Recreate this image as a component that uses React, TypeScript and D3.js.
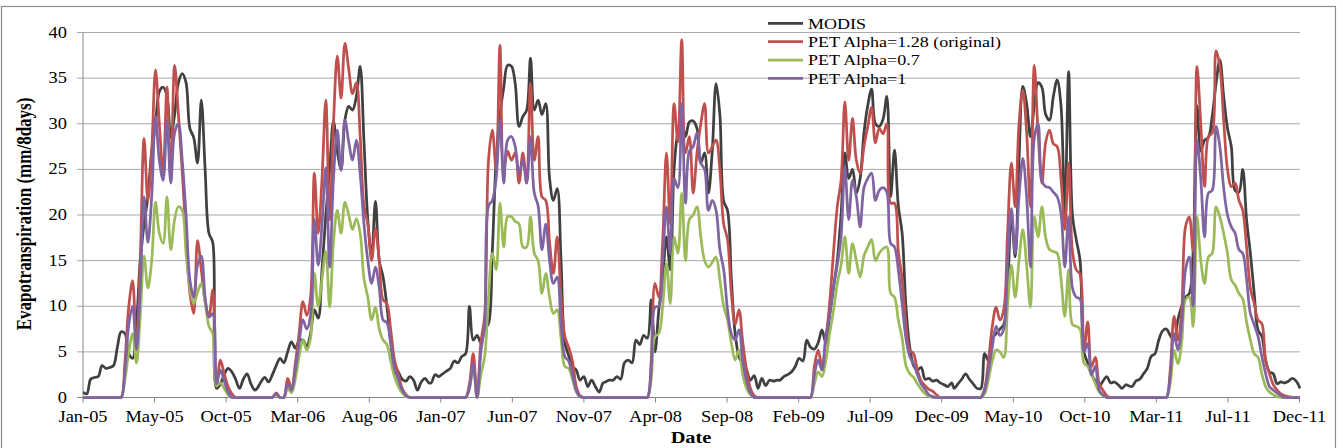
import React from 'react';
import * as d3 from 'd3';

const width = 1343;
const height = 448;
const plot = { left: 83, right: 1300, top: 32.5, bottom: 397.5 };
const font = "'Liberation Serif', 'Times New Roman', serif";

const years = [2005, 2006, 2007, 2008, 2009, 2010, 2011];
const yTicks = [0, 5, 10, 15, 20, 25, 30, 35, 40];
const tickLabels = [
  'Jan-05', 'May-05', 'Oct-05', 'Mar-06', 'Aug-06', 'Jan-07', 'Jun-07', 'Nov-07', 'Apr-08',
  'Sep-08', 'Feb-09', 'Jul-09', 'Dec-09', 'May-10', 'Oct-10', 'Mar-11', 'Jul-11', 'Dec-11',
];

// 8-day composites, 46 per year (2005..2011)
const modis = [
  0.6, 0.4, 2.0, 2.2, 2.3, 3.5, 3.2, 3.3, 3.5, 5.5, 7.2, 7.0, 4.8, 4.3, 8, 15, 19, 22, 27, 30, 33.5, 34, 33, 28.5, 31, 34.5, 35.5, 34.5, 29.5, 28.5, 25.7, 32.6, 25, 18, 17, 1, 1.5, 2.5, 3.2, 2.8, 2.0, 1.0, 2.0, 2.6, 1.5, 0.8,
  1, 1.7, 2.2, 1.7, 2.5, 3.5, 4.3, 3.8, 5, 6.1, 5.4, 6.2, 6.3, 5.6, 7, 9.6, 8.7, 14, 20, 25, 30.3, 27, 25, 30.4, 31.9, 31.5, 33, 36.3, 28, 19.5, 15.5, 21.5, 15, 13.2, 10, 6, 3.5, 2.8, 2.0, 1.8, 2.3, 1.9, 0.8, 1.7, 2.1, 1.6,
  1.6, 2.5, 2.3, 2.6, 2.9, 3.2, 4.0, 3.8, 4.5, 4.8, 10, 6.3, 6.8, 6.0, 7.5, 8.1, 16, 26, 31, 34, 36.4, 36.3, 34.4, 29.7, 30.8, 31.5, 37.2, 31.5, 32.6, 31, 32.2, 24, 21.6, 22.9, 15, 6, 4.6, 3.4, 3, 1.9, 2.3, 1.2, 1.9, 1.2, 0.6, 1.6,
  1.7, 1.9, 1.9, 2.3, 2.0, 3.8, 4.1, 3.8, 6.3, 5.8, 6.8, 6.5, 10.7, 5.0, 9.6, 13, 17.6, 14, 25, 29, 30, 28.6, 30.2, 30.3, 29.5, 25.7, 26.8, 22.4, 27, 34.4, 31, 21.5, 20.5, 13, 7, 4.5, 3.7, 3.0, 1.9, 2.4, 1.0, 2.1, 1.3, 1.9, 1.8, 1.9,
  1.9, 2.3, 2.5, 2.8, 3.4, 4.3, 4.0, 6.3, 5.5, 5.3, 6, 7.4, 6.0, 9, 12, 15, 20, 26.8, 24, 25, 22.4, 24, 29, 32, 33.8, 30, 29.7, 30.5, 33, 22, 27.1, 21, 18, 10, 5.5, 3.5, 3, 3.3, 2, 2.1, 1.8, 1.9, 1.6, 1.4, 1.2, 1.6,
  1.0, 1.5, 2.0, 2.6, 2.0, 1.5, 1.0, 1.0, 4.8, 4.0, 6.5, 7.0, 7.5, 8.0, 12, 20, 15.4, 26, 34.1, 32.2, 28.6, 32, 34.5, 34, 31, 30.4, 33, 34.8, 32, 20, 35.7, 20, 17.3, 15, 5, 3.8, 2.5, 1.8, 1.2, 1.8, 2.3, 1.6, 1.7, 1.4, 1.0, 1.4,
  1.3, 1.2, 1.8, 2.0, 2.6, 3.2, 4.5, 4.8, 6.3, 7.3, 7.5, 6.8, 6.3, 8.5, 10, 11, 11.4, 16, 32, 27, 28.2, 28.5, 30.8, 34.4, 37, 33, 29.5, 27.5, 22.7, 22.5, 25, 19.5, 15.8, 11.4, 7.4, 6.7, 4.1, 2.8, 2.6, 1.5, 1.7, 1.6, 1.8, 2.1, 1.8, 1.0,
];

const petOriginal = [
  0, 0, 0, 0, 0, 0, 0, 0, 0, 0, 0, 4, 10, 12.8, 5.2, 15, 28.4, 21.6, 27, 35.9, 30, 24.6, 34, 24, 36.4, 31, 24.8, 17.6, 11.5, 9.2, 17.2, 14, 10.5, 8.9, 11.8, 1.2, 4.1, 2.6, 1.2, 0.4, 0, 0, 0, 0, 0, 0,
  0, 0, 0, 0, 0, 0.5, 0, 0, 2.1, 1.0, 3.7, 7, 10.5, 9, 11, 24.6, 18, 24, 32.6, 19.5, 30, 37.4, 32.8, 38.8, 36, 33.3, 34.5, 28.6, 21, 19, 15, 18.5, 15, 10.7, 10.3, 7.4, 4.1, 2.6, 1.0, 0.3, 0, 0, 0, 0, 0, 0,
  0, 0, 0, 0, 0, 0, 0, 0, 0, 0, 1.5, 4.8, 0, 6, 9, 26, 29.3, 25, 38.6, 24.9, 27, 26, 26.8, 23.5, 26.8, 23.5, 34.4, 26, 28.6, 22, 21.6, 17, 13.6, 17.6, 11, 6.7, 5.5, 4, 1.2, 0.2, 0, 0, 0, 0, 0, 0,
  0, 0, 0, 0, 0, 0, 0, 0, 0, 0, 0, 0, 4, 12.5, 11, 17, 26.8, 19, 32.2, 28, 39.2, 26.8, 28.6, 22.4, 26.8, 30, 32.2, 26.8, 27.5, 28.2, 24.9, 19, 17.3, 11.5, 8, 9.6, 6, 3, 1, 0.2, 0, 0, 0, 0, 0, 0,
  0, 0, 0, 0, 0, 0, 0, 0, 0, 3.4, 5.2, 3.4, 6.3, 10.3, 15.8, 20.9, 23.8, 32.4, 26, 30.6, 26, 24.6, 27.5, 29.7, 31.8, 27.9, 29.5, 28.9, 30, 21.3, 21.3, 16, 13, 8, 5.2, 4.8, 3, 1.8, 1.3, 0.9, 0.7, 0.3, 0, 0, 0, 0,
  0, 0, 0, 0, 0, 0, 0, 0, 1, 4, 7.8, 9.9, 8.5, 9.6, 18, 25.7, 20.9, 30, 33.7, 29, 20.9, 36.4, 29, 23.5, 28, 29.3, 27.8, 27.5, 24, 18.4, 25.7, 16, 14, 13.5, 5, 8.3, 3.4, 4.4, 1.5, 0.8, 0.2, 0, 0, 0, 0, 0,
  0, 0, 0, 0, 0, 0, 0, 0, 0, 0, 0, 3, 8.9, 6.3, 9.6, 18.7, 19.8, 16, 36.3, 30, 23.1, 28.6, 29, 38, 36.3, 30.4, 25, 23.1, 23.5, 21.6, 20.5, 16.5, 12, 10.3, 8.5, 8.1, 4, 2.6, 1.4, 0.8, 0.4, 0.2, 0.1, 0, 0, 0,
];

const pet07 = [
  0, 0, 0, 0, 0, 0, 0, 0, 0, 0, 0, 2, 5, 7, 3.8, 9, 15.5, 12, 15, 21.4, 18, 16.9, 22, 16.2, 19.5, 20.9, 20.5, 15.8, 12, 10.3, 11.5, 12.5, 10.5, 7.8, 7, 1.3, 1.6, 1.0, 0.3, 0, 0, 0, 0, 0, 0, 0,
  0, 0, 0, 0, 0, 0.3, 0, 0, 1.0, 0.5, 2, 4.5, 6.3, 5.2, 6.5, 13.6, 10, 13, 16, 9.9, 17, 20.5, 18, 21.4, 20, 18.4, 19.6, 18, 13, 11, 8.5, 9.9, 7.5, 6.3, 5.8, 4, 2.3, 1.2, 0.5, 0.1, 0, 0, 0, 0, 0, 0,
  0, 0, 0, 0, 0, 0, 0, 0, 0, 0, 1, 3.4, 0, 2.5, 4.5, 11, 15.8, 14, 21.3, 16.5, 19.8, 19.8, 19.3, 19, 16.5, 16.5, 19.8, 15.8, 15, 11.4, 13.6, 11, 9.2, 9.6, 6.5, 3.4, 3.2, 2, 0.6, 0.1, 0, 0, 0, 0, 0, 0,
  0, 0, 0, 0, 0, 0, 0, 0, 0, 0, 0, 0, 2, 6.7, 7, 10, 14.7, 10.3, 17.6, 15.8, 22.4, 15, 19.5, 20, 20.9, 17.6, 15, 14.3, 14.8, 15.4, 12.9, 10, 8.5, 6, 4.1, 5.2, 2.5, 1, 0.3, 0, 0, 0, 0, 0, 0, 0,
  0, 0, 0, 0, 0, 0, 0, 0, 0, 1.5, 2.8, 2.3, 4, 7, 9.5, 12.5, 14.5, 17.6, 13.6, 16.9, 15, 13.2, 15.5, 16.5, 17.3, 15, 15.8, 16.3, 16.5, 11.4, 11, 8.5, 6.5, 3.5, 2.6, 2.2, 1.5, 0.9, 0.4, 0.1, 0, 0, 0, 0, 0, 0,
  0, 0, 0, 0, 0, 0, 0, 0, 0.4, 2, 4, 5.2, 5, 4.4, 10, 14.5, 11, 15, 18.4, 14.5, 9.9, 19.8, 17.6, 20.9, 17.5, 16.2, 16, 15.8, 13, 8.9, 14, 8, 7.8, 7.5, 3.8, 3.4, 2.5, 1.5, 0.6, 0.2, 0, 0, 0, 0, 0, 0,
  0, 0, 0, 0, 0, 0, 0, 0, 0, 0, 0, 1.5, 5.2, 3.7, 6, 10.7, 11, 7.8, 19.8, 15, 12.5, 15.4, 15.8, 20.9, 19.8, 18, 15.8, 12.9, 12.3, 11.4, 10.8, 8.3, 6.3, 4.8, 4.4, 2.6, 1.2, 0.6, 0.3, 0.1, 0, 0, 0, 0, 0, 0,
];

const pet1 = [
  0, 0, 0, 0, 0, 0, 0, 0, 0, 0, 0, 3, 8, 10, 5.3, 12, 22, 17, 22, 30.8, 26, 23.8, 30.4, 23.5, 29, 30, 26, 20, 12.9, 11, 14.5, 15.5, 11, 8.8, 9.2, 1.5, 3, 1.8, 0.6, 0, 0, 0, 0, 0, 0, 0,
  0, 0, 0, 0, 0, 0.4, 0, 0, 1.5, 0.8, 3, 6, 8.5, 7.5, 9, 19.5, 14.5, 19, 25.2, 14.3, 24, 29.3, 24.9, 30.4, 28, 26, 28.2, 24.5, 19, 15, 12.5, 14.3, 12, 8.5, 8.2, 6, 3.2, 2, 0.8, 0.2, 0, 0, 0, 0, 0, 0,
  0, 0, 0, 0, 0, 0, 0, 0, 0, 0, 1, 3.7, 0, 5, 8, 21, 21.6, 24, 30.4, 23.5, 28.2, 28.6, 27.5, 24.6, 26, 23.5, 28.6, 22.4, 21, 16.2, 19, 15, 12.5, 13.2, 8, 4.5, 4, 2.5, 0.8, 0.1, 0, 0, 0, 0, 0, 0,
  0, 0, 0, 0, 0, 0, 0, 0, 0, 0, 0, 0, 3, 9.9, 10, 15, 20.9, 15.8, 24, 23, 32.2, 21.3, 27, 27.5, 29, 25.7, 25, 20.5, 21.6, 20.5, 16.2, 14, 9.6, 7, 6.3, 7.4, 4, 1.8, 0.5, 0, 0, 0, 0, 0, 0, 0,
  0, 0, 0, 0, 0, 0, 0, 0, 0, 2.5, 4.1, 3, 6.7, 9, 12.1, 14.5, 17.6, 25.3, 19.5, 23.8, 22, 18.7, 23, 24, 24.6, 21.6, 22.7, 23, 22.5, 16.9, 16.5, 14, 10.3, 6.5, 4.5, 3.7, 2.5, 1.5, 0.9, 0.3, 0.1, 0, 0, 0, 0, 0,
  0, 0, 0, 0, 0, 0, 0, 0, 0.8, 3, 5.5, 7.8, 6.8, 7.5, 15, 20.7, 15.8, 22, 26.2, 22, 14.3, 28.4, 30, 23.8, 23.1, 23, 22.5, 22, 20.2, 14.3, 19.8, 12, 11, 10.8, 5, 5.9, 2.5, 3.4, 0.8, 0.3, 0, 0, 0, 0, 0, 0,
  0, 0, 0, 0, 0, 0, 0, 0, 0, 0, 0, 2.5, 7, 5.2, 8, 14, 15.4, 10, 28.2, 24, 17.6, 22.4, 22.7, 29.7, 27.5, 23, 20, 18.7, 18, 16.2, 15.8, 13, 9.2, 8, 6.7, 4.5, 2.6, 1.2, 0.8, 0.5, 0.2, 0, 0, 0, 0, 0,
];

const series = [
  { name: 'MODIS', values: modis, color: '#404040' },
  { name: 'PET Alpha=1.28 (original)', values: petOriginal, color: '#c0504d' },
  { name: 'PET Alpha=0.7', values: pet07, color: '#9bbb59' },
  { name: 'PET Alpha=1', values: pet1, color: '#8064a2' },
];

const DAY = 86400000;
const dates = years.flatMap(yr => d3.range(46).map(k => new Date(Date.UTC(yr, 0, 1 + 8 * k))));
const start = Date.UTC(2005, 0, 1);
const tickDates = tickLabels.map((_, i) => new Date(start + i * 150 * DAY));

const Txt = ({ x, y, children, anchor = 'start', size = 16, bold = false, sx = 1.15, rotate = 0 }) => (
  <text
    transform={`translate(${x},${y}) scale(${sx},1)${rotate ? ` rotate(${rotate})` : ''}`}
    textAnchor={anchor}
    fontSize={size}
    fontWeight={bold ? 'bold' : 'normal'}
    fontFamily={font}
    fill="#000"
  >
    {children}
  </text>
);

export default function App() {
  const x = d3.scaleUtc()
    .domain([new Date(start), dates[dates.length - 1]])
    .range([plot.left, plot.right]);
  const y = d3.scaleLinear().domain([0, 40]).range([plot.bottom, plot.top]);

  const line = d3.line<number>()
    .x((d, i) => x(dates[i]))
    .y(d => y(d))
    .curve(d3.curveCatmullRom.alpha(0.5));

  return (
    <svg width={width} height={height} style={{ position: 'fixed', left: 0, top: 0, background: '#fff' }}>
      <defs>
        <clipPath id="plotClip">
          <rect x={plot.left} y={0} width={plot.right - plot.left + 2} height={plot.bottom + 1.5} />
        </clipPath>
      </defs>
      <rect x={1.5} y={6.5} width={1334} height={480} fill="#fff" stroke="#8c8c8c" strokeWidth={1.2} />

      {/* gridlines + y ticks */}
      {yTicks.map(t => (
        <g key={t}>
          <line x1={plot.left - 6} x2={t === 0 ? plot.right : plot.right} y1={y(t)} y2={y(t)} stroke={t === 0 ? '#868686' : '#a9a9a9'} strokeWidth={1} />
          <Txt x={67} y={y(t) + 5} anchor="end">{t}</Txt>
        </g>
      ))}
      <line x1={plot.left} x2={plot.left} y1={plot.top} y2={plot.bottom} stroke="#868686" />

      {/* x ticks */}
      {tickDates.map((d, i) => (
        <g key={tickLabels[i]}>
          <line x1={x(d)} x2={x(d)} y1={plot.bottom} y2={plot.bottom + 5} stroke="#868686" />
          <Txt x={x(d)} y={421.5} anchor="middle">{tickLabels[i]}</Txt>
        </g>
      ))}

      <g clipPath="url(#plotClip)">
        {series.map(s => (
          <path key={s.name} d={line(s.values) || ''} fill="none" stroke={s.color} strokeWidth={2.75} strokeLinejoin="round" />
        ))}
      </g>

      {/* legend */}
      {series.map((s, i) => {
        const ly = 23.3 + i * 18.35;
        return (
          <g key={s.name}>
            <line x1={768} x2={803} y1={ly} y2={ly} stroke={s.color} strokeWidth={2.75} />
            <Txt x={808} y={ly + 5.3} size={15} sx={1.2}>{s.name}</Txt>
          </g>
        );
      })}

      <Txt x={691} y={442.5} anchor="middle" size={17} bold sx={1.2}>Date</Txt>
      <Txt x={31} y={214} anchor="middle" size={17} bold sx={1.2} rotate={-90}>Evapotranspiration (mm/8days)</Txt>
    </svg>
  );
}
